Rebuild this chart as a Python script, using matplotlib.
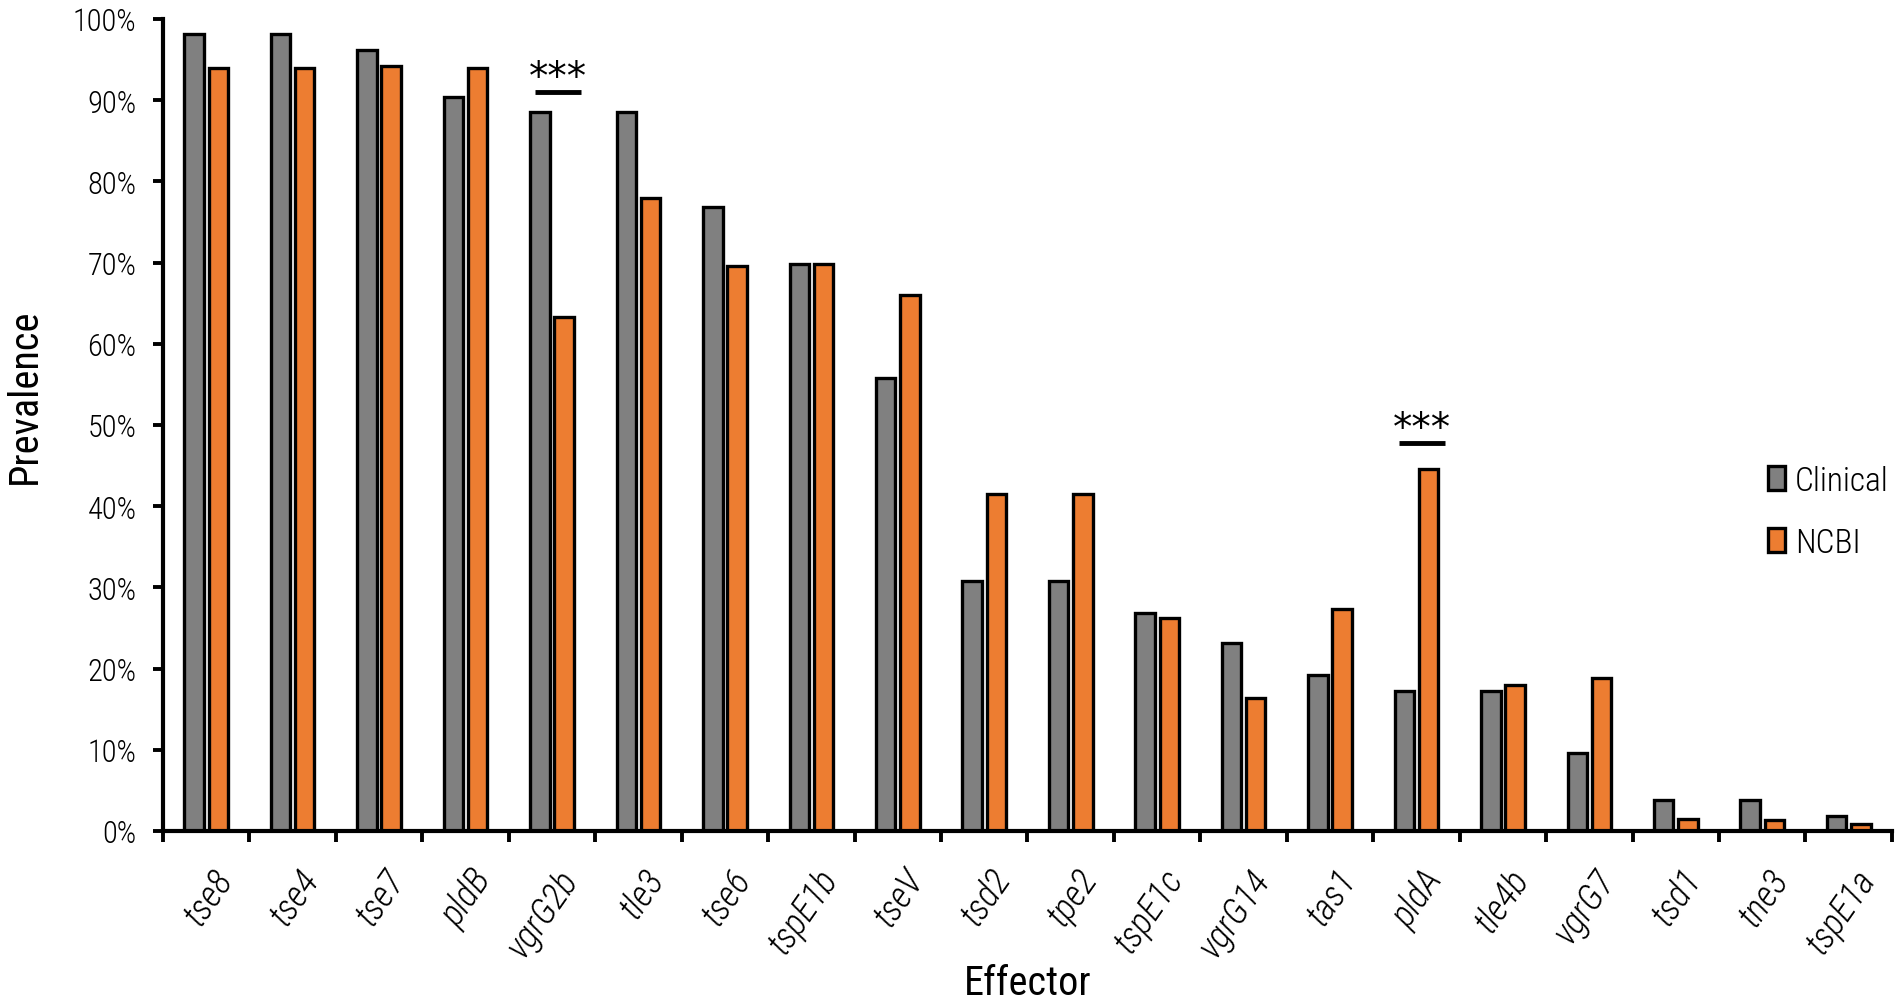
import numpy as np
import matplotlib
matplotlib.use('Agg')
import matplotlib.pyplot as plt
from matplotlib.ticker import FuncFormatter, FixedLocator

# Data (prevalence, %)
effectors = ['tse8', 'tse4', 'tse7', 'pldB', 'vgrG2b', 'tle3', 'tse6', 'tspE1b', 'tseV',
             'tsd2', 'tpe2', 'tspE1c', 'vgrG14', 'tas1', 'pldA', 'tle4b', 'vgrG7',
             'tsd1', 'tne3', 'tspE1a']
clinical = [98.1, 98.1, 96.2, 90.4, 88.5, 88.5, 76.9, 69.8, 55.8,
            30.8, 30.8, 26.9, 23.1, 19.2, 17.3, 17.3, 9.6,
            3.8, 3.8, 1.9]
ncbi = [94.0, 94.0, 94.2, 94.0, 63.3, 78.0, 69.6, 69.8, 66.0,
        41.5, 41.5, 26.2, 16.4, 27.3, 44.6, 18.0, 18.8,
        1.5, 1.3, 0.9]
# significance marks: effector -> height of bar line (%)
signif = {'vgrG2b': 91.0, 'pldA': 47.8}

# Plot settings
plt.rcParams['font.family'] = ['Roboto Condensed', 'Roboto', 'DejaVu Sans']
plt.rcParams['font.weight'] = 'light'
col_clin = '#808080'
col_ncbi = '#ED7D31'
bar_w = 0.225
offset = 0.14
edge_w = 2.4

fig = plt.figure(figsize=(19.02, 10.03), dpi=100)
ax = fig.add_axes([0.0857, 0.1705, 0.909, 0.8096])

x = np.arange(len(effectors))
ax.bar(x - offset, np.array(clinical) / 100, width=bar_w, color=col_clin,
       edgecolor='black', linewidth=edge_w, label='Clinical', zorder=2)
ax.bar(x + offset, np.array(ncbi) / 100, width=bar_w, color=col_ncbi,
       edgecolor='black', linewidth=edge_w, label='NCBI', zorder=2)

# significance lines and stars
for name, h in signif.items():
    i = effectors.index(name)
    ax.plot([i - 0.2, i + 0.33], [h / 100, h / 100], color='black', lw=3.5,
            solid_capstyle='butt')
    ax.text(i + 0.065, h / 100 + 0.018, '***', ha='center', va='center',
            fontsize=28, family='DejaVu Sans', weight='normal')

ax.set_xlim(-0.5, len(effectors) - 0.5)
ax.set_ylim(0, 1.0)

# y axis
ax.set_yticks(np.arange(0, 1.01, 0.1))
ax.yaxis.set_major_formatter(FuncFormatter(lambda v, p: f'{v*100:.0f}%'))
ax.tick_params(axis='y', direction='out', length=7, width=2.8, labelsize=22, pad=12)
ax.set_ylabel('Prevalence', fontsize=29, va='center')
ax.yaxis.set_label_coords(-0.080, 0.537)

# x axis: tick marks between groups, labels at groups
ax.xaxis.set_major_locator(FixedLocator(np.arange(-0.5, len(effectors), 1.0)))
ax.xaxis.set_minor_locator(FixedLocator(x + 0.22))
ax.tick_params(axis='x', which='major', direction='out', length=8, width=2.8,
               labelbottom=False)
ax.tick_params(axis='x', which='minor', length=0, pad=30)
ax.set_xticklabels(effectors, minor=True, rotation=55, ha='right', va='center',
                   rotation_mode='anchor', fontsize=26, style='italic')
ax.set_xlabel('Effector', fontsize=29, va='center')
ax.xaxis.set_label_coords(0.5, -0.187)

for s in ['top', 'right']:
    ax.spines[s].set_visible(False)
for s in ['left', 'bottom']:
    ax.spines[s].set_linewidth(3)

ax.legend(loc='center left', bbox_to_anchor=(0.914, 0.489), bbox_transform=fig.transFigure,
          frameon=False, fontsize=24, handlelength=0.5, handleheight=0.7,
          handletextpad=0.3, labelspacing=0.9)

plt.savefig('out.png', dpi=100, facecolor='w')
